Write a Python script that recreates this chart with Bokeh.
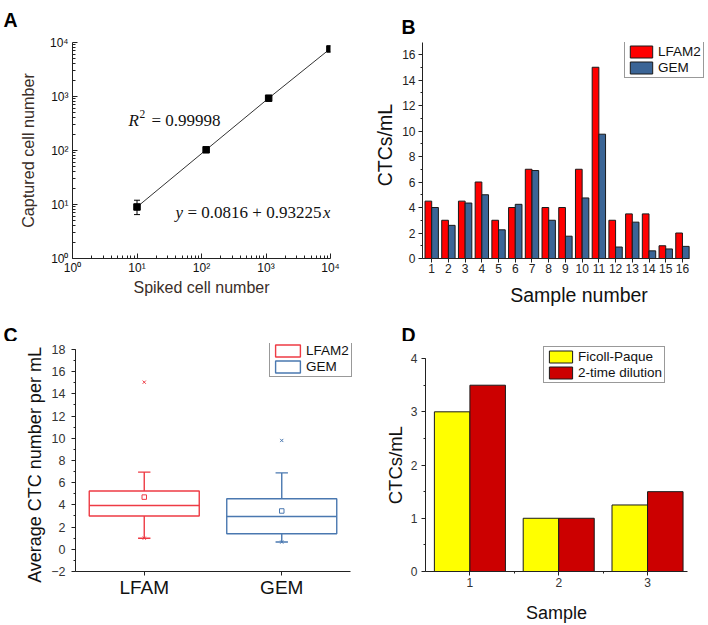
import math
from bokeh.plotting import figure
from bokeh.layouts import column, row
from bokeh.models import (Range1d, Legend, LegendItem, FixedTicker, Label,
                          SingleIntervalTicker, CustomJSTickFormatter,
                          ColumnDataSource, Whisker, TeeHead)
from bokeh.transform import dodge
from bokeh.embed import file_html
from bokeh.resources import INLINE

# ---------------- data ----------------
# Panel A: capture (log-log)
spiked_cells = [10, 118, 1100, 9800]
captured_cells = [9.0, 103, 930, 7600]
err_spiked = [10]
err_lower = [6.5]
err_upper = [12.0]
r2_value = "= 0.99998"
fit_text = "= 0.0816 + 0.93225"
log_tick_values = [1, 10, 100, 1000, 10000]
log_tick_labels = ["10\u2070", "10\u00b9", "10\u00b2", "10\u00b3", "10\u2074"]

# Panel B: CTCs per sample
sample_numbers = list(range(1, 17))
lfam2_ctc = [4.5, 3, 4.5, 6, 3, 4, 7, 4, 4, 7, 15, 3, 3.5, 3.5, 1, 2]
gem_ctc = [4.0, 2.6, 4.35, 5.0, 2.25, 4.25, 6.9, 3.0, 1.75, 4.75, 9.75, 0.9, 2.85, 0.6, 0.75, 0.95]
series_b = ["LFAM2", "GEM"]

# Panel C: box plot
box_groups = ["LFAM", "GEM"]
box_legend = ["LFAM2", "GEM"]
box_q1 = [3.0, 1.4]
box_median = [3.95, 2.95]
box_q3 = [5.25, 4.55]
box_whisker_low = [1.0, 0.65]
box_whisker_high = [6.95, 6.88]
box_mean = [4.7, 3.45]
box_min = [1.0, 0.65]
box_max = [15.05, 9.8]

# Panel D
samples_d = [1, 2, 3]
ficoll_ctc = [3.0, 1.0, 1.25]
dilution_ctc = [3.5, 1.0, 1.5]
series_d = ["Ficoll-Paque", "2-time dilution"]

panel_letters = ["A", "B", "C", "D"]

# ---------------- layout helpers ----------------
SANS = "Liberation Sans"
SERIF = "Liberation Serif"
NB = "\u00a0"
TOP_STRIP = 34      # page rows 0..34 hold letters A, B
MID_STRIP = 31      # page rows 310..341 hold letters C, D

# frame boxes (page px) -- frames in one row share top/bottom
# calibration: two (pixel, value) pairs per axis
PANELS = {
    "A": dict(ox=0, oy=TOP_STRIP, W=354, H=310 - TOP_STRIP, frame=(72, 42, 330, 258),
              xcal=((72, 1), (330, 1e4)), ycal=((258, 1), (42, 1e4))),
    "B": dict(ox=354, oy=TOP_STRIP, W=354, H=310 - TOP_STRIP, frame=(422.5, 42, 708, 258),
              xcal=((422.5, 0.45), (689.5, 16.45)), ycal=((258, 0), (54, 16))),
    "C": dict(ox=0, oy=310 + MID_STRIP, W=354, H=315 - MID_STRIP, frame=(75, 343, 354, 574),
              xcal=((75, 0.5), (350, 2.5)), ycal=((574, -2), (349, 18))),
    "D": dict(ox=354, oy=310 + MID_STRIP, W=354, H=315 - MID_STRIP, frame=(425, 343, 686.5, 574),
              xcal=((425, 0.5), (686.5, 3.45)), ycal=((574, 0), (358.3, 4))),
}


def calib(cal, log, p_edge):
    (pa, va), (pb, vb) = cal
    fa, fb = (math.log10(va), math.log10(vb)) if log else (va, vb)
    f = fa + (p_edge - pa) * (fb - fa) / (pb - pa)
    return 10 ** f if log else f


def make_fig(name, x_log=False, y_log=False):
    g = PANELS[name]
    w, h = g["W"], g["H"]
    fx0, fy0, fx1, fy1 = g["frame"]
    left = round(fx0 - g["ox"])
    fw = round(fx1 - fx0)
    top = round(fy0 - g["oy"])
    fh = round(fy1 - fy0)
    xr = (calib(g["xcal"], x_log, fx0), calib(g["xcal"], x_log, fx1))
    yr = (calib(g["ycal"], y_log, fy1), calib(g["ycal"], y_log, fy0))
    p = figure(width=w, height=h,
               x_range=Range1d(*xr), y_range=Range1d(*yr),
               x_axis_type="log" if x_log else "linear",
               y_axis_type="log" if y_log else "linear",
               output_backend="svg", toolbar_location=None,
               min_border_left=left, min_border_right=w - left - fw,
               min_border_top=top, min_border_bottom=h - top - fh)
    p.outline_line_color = None
    p.xgrid.visible = False
    p.ygrid.visible = False
    p.background_fill_color = "white"
    p.border_fill_color = "white"

    def to_data(px, py):
        return calib(g["xcal"], x_log, px), calib(g["ycal"], y_log, py)

    def to_legend(px_left, py_bottom):
        return (round(px_left - fx0), round(fy1 - py_bottom))

    return p, to_data, to_legend


def make_strip(height, y0, letters):
    s = figure(width=708, height=height, x_range=Range1d(0, 708),
               y_range=Range1d(y0 + height, y0), title=None,
               x_axis_location=None, y_axis_location=None,
               output_backend="svg", toolbar_location=None, min_border=0,
               min_border_left=0, min_border_right=0,
               min_border_top=0, min_border_bottom=0)
    s.outline_line_color = None
    s.xgrid.visible = False
    s.ygrid.visible = False
    s.background_fill_color = "white"
    s.border_fill_color = "white"
    for text, px, py in letters:
        # py is the baseline of the bold letter
        s.add_layout(Label(x=px, y=py, text=text, text_align="left", text_baseline="alphabetic",
                           text_font=SANS, text_font_size="19.5px",
                           text_font_style="bold", text_color="black"))
    return s


def style_axes(p, tick_size, tick_color="#222", tin=0, tout=4, mtin=0, mtout=2):
    for ax in (p.xaxis[0], p.yaxis[0]):
        ax.axis_line_color = "#222"
        ax.axis_line_width = 1
        ax.major_tick_line_color = "#222"
        ax.minor_tick_line_color = "#222"
        ax.major_tick_in = tin
        ax.major_tick_out = tout
        ax.minor_tick_in = mtin
        ax.minor_tick_out = mtout
        ax.major_label_text_font = SANS
        ax.major_label_text_font_size = f"{tick_size}px"
        ax.major_label_text_color = tick_color
        ax.axis_label_text_font = SANS
        ax.axis_label_text_font_style = "normal"


def set_axis_label(ax, text, size, standoff, color="#111"):
    ax.axis_label = text
    ax.axis_label_text_font_size = f"{size}px"
    ax.axis_label_standoff = standoff
    ax.axis_label_text_color = color


def add_label(p, to_data, px, py, text, size, align="left", baseline="alphabetic",
              font=SERIF, style="normal", color="#111"):
    x, y = to_data(px, py)
    p.add_layout(Label(x=x, y=y, text=text, text_align=align,
                       text_baseline=baseline, text_font=font,
                       text_font_size=f"{size}px", text_font_style=style,
                       text_color=color))


def make_legend(items, loc, glyph_w, size=13.5):
    return Legend(items=items, location=loc, orientation="vertical",
                  glyph_width=glyph_w, glyph_height=15, label_height=15,
                  label_standoff=3, padding=2, spacing=1, margin=0,
                  border_line_color="#333", border_line_width=1.5,
                  label_text_font=SANS, label_text_font_size=f"{size}px",
                  label_text_color="#111", background_fill_color="white",
                  background_fill_alpha=1)


# ---------------- Panel A ----------------
pA, dA, _ = make_fig("A", x_log=True, y_log=True)
style_axes(pA, 12, "#111", tin=5, tout=0, mtin=3, mtout=0)
minor_log = [d * k for d in log_tick_values[:-1] for k in range(2, 10)]
fmt_log = CustomJSTickFormatter(args=dict(labels=log_tick_labels),
                                code="const e = Math.round(Math.log10(tick)); return labels[e] ?? '';")
for ax in (pA.xaxis[0], pA.yaxis[0]):
    ax.ticker = FixedTicker(ticks=log_tick_values, minor_ticks=minor_log)
    ax.formatter = fmt_log
pA.yaxis[0].major_label_standoff = 4
pA.xaxis[0].major_label_standoff = 2
set_axis_label(pA.yaxis[0], "Captured cell number", 16.2, 10, "#3a2e28")
set_axis_label(pA.xaxis[0], "Spiked cell number", 16, 1, "#3a2e28")

err_src = ColumnDataSource(dict(x=err_spiked, lo=err_lower, hi=err_upper))
pA.add_layout(Whisker(source=err_src, base="x", lower="lo", upper="hi",
                      dimension="height", line_color="black", line_width=1,
                      upper_head=TeeHead(size=6, line_color="black", line_width=1),
                      lower_head=TeeHead(size=6, line_color="black", line_width=1)))
pA.line(spiked_cells, captured_cells, line_color="#333", line_width=1)
pA.scatter(spiked_cells, captured_cells, marker="square", size=6.5, color="black")

add_label(pA, dA, 128, 119.5, "R", 17, style="italic")
add_label(pA, dA, 139, 113.5, "2", 11.5)
add_label(pA, dA, 151, 119.5, r2_value, 17)
add_label(pA, dA, 175, 212, "y", 17, style="italic")
add_label(pA, dA, 187, 212, fit_text, 17)
add_label(pA, dA, 322.5, 212, "x", 17, style="italic")

# ---------------- Panel B ----------------
pB, dB, lB = make_fig("B")
style_axes(pB, 12, "#222", tin=0, tout=4, mtin=0, mtout=2)
pB.xaxis[0].ticker = FixedTicker(ticks=sample_numbers, minor_ticks=[])
pB.xaxis[0].bounds = (PANELS["B"]["xcal"][0][1], PANELS["B"]["xcal"][1][1])
pB.yaxis[0].ticker = SingleIntervalTicker(interval=2, num_minor_ticks=2)
pB.xaxis[0].major_label_standoff = 1
pB.yaxis[0].major_label_standoff = 3
set_axis_label(pB.yaxis[0], NB * 2 + "CTCs/mL", 19.5, 3)
set_axis_label(pB.xaxis[0], NB * 5 + "Sample number", 19.5, 8)

srcB = ColumnDataSource(dict(s=sample_numbers, a=lfam2_ctc, b=gem_ctc))
rB1 = pB.vbar(x=dodge("s", -0.2, range=pB.x_range), width=0.4, top="a", source=srcB,
              fill_color="#ff0000", line_color="#1a1a1a", line_width=1)
rB2 = pB.vbar(x=dodge("s", 0.2, range=pB.x_range), width=0.4, top="b", source=srcB,
              fill_color="#3b6596", line_color="#1a1a1a", line_width=1)
pB.add_layout(make_legend([LegendItem(label=series_b[0], renderers=[rB1]),
                           LegendItem(label=series_b[1], renderers=[rB2])],
                          lB(625, 78), 28))

# ---------------- Panel C ----------------
pC, dC, lC = make_fig("C")
style_axes(pC, 12.5, "#333", tin=0, tout=4, mtin=0, mtout=2)
box_pos = [i + 1 for i in range(len(box_groups))]
pC.xaxis[0].ticker = FixedTicker(ticks=box_pos, minor_ticks=[])
pC.xaxis[0].bounds = (PANELS["C"]["xcal"][0][1], PANELS["C"]["xcal"][1][1])
pC.xaxis[0].formatter = CustomJSTickFormatter(args=dict(names=box_groups),
                                              code="return names[Math.round(tick) - 1] ?? '';")
pC.xaxis[0].major_label_text_font_size = "19px"
pC.xaxis[0].major_label_text_color = "#111"
pC.xaxis[0].major_label_standoff = 1
pC.yaxis[0].ticker = SingleIntervalTicker(interval=2, num_minor_ticks=2)
pC.yaxis[0].bounds = (PANELS["C"]["ycal"][0][1], PANELS["C"]["ycal"][1][1])
pC.yaxis[0].major_label_standoff = 6
set_axis_label(pC.yaxis[0], "Average CTC number per mL" + NB * 3, 18, 3)

box_colors = ["#ee3b44", "#4a78b0"]
srcC = ColumnDataSource(dict(pos=box_pos, q1=box_q1, med=box_median, q3=box_q3,
                             lo=box_whisker_low, hi=box_whisker_high, mean=box_mean,
                             mn=box_min, mx=box_max, color=box_colors))
lw = 1.4
rbox = pC.vbar(x="pos", bottom="q1", top="q3", width=0.8, source=srcC,
               fill_color=None, line_color="color", line_width=lw)
pC.segment(x0=dodge("pos", -0.4), x1=dodge("pos", 0.4), y0="med", y1="med",
           source=srcC, line_color="color", line_width=lw)
pC.segment(x0="pos", x1="pos", y0="q3", y1="hi", source=srcC, line_color="color", line_width=lw)
pC.segment(x0="pos", x1="pos", y0="q1", y1="lo", source=srcC, line_color="color", line_width=lw)
pC.segment(x0=dodge("pos", -0.045), x1=dodge("pos", 0.045), y0="hi", y1="hi",
           source=srcC, line_color="color", line_width=lw)
pC.segment(x0=dodge("pos", -0.045), x1=dodge("pos", 0.045), y0="lo", y1="lo",
           source=srcC, line_color="color", line_width=lw)
pC.scatter(x="pos", y="mean", source=srcC, marker="square", size=4.5,
           fill_color=None, line_color="color", line_width=1)
pC.scatter(x="pos", y="mx", source=srcC, marker="x", size=4.5, line_color="color", line_width=1)
pC.scatter(x="pos", y="mn", source=srcC, marker="x", size=4.5, line_color="color", line_width=1)
pC.add_layout(make_legend([LegendItem(label=box_legend[0], renderers=[rbox], index=0),
                           LegendItem(label=box_legend[1], renderers=[rbox], index=1)],
                          lC(269, 380), 31))

# ---------------- Panel D ----------------
pD, dD, lD = make_fig("D")
style_axes(pD, 12, "#333", tin=0, tout=4, mtin=0, mtout=2)
pD.xaxis[0].ticker = FixedTicker(ticks=samples_d, minor_ticks=[s + 0.5 for s in samples_d[:-1]])
pD.yaxis[0].ticker = SingleIntervalTicker(interval=1, num_minor_ticks=2)
pD.yaxis[0].bounds = (PANELS["D"]["ycal"][0][1], PANELS["D"]["ycal"][1][1])
pD.xaxis[0].major_label_standoff = 2
pD.yaxis[0].major_label_standoff = 4
set_axis_label(pD.yaxis[0], "CTCs/mL" + NB * 3, 18.5, 2)
set_axis_label(pD.xaxis[0], "Sample", 18, 13)

srcD = ColumnDataSource(dict(s=samples_d, f=ficoll_ctc, d=dilution_ctc))
rD1 = pD.vbar(x=dodge("s", -0.2, range=pD.x_range), width=0.4, top="f", source=srcD,
              fill_color="#ffff00", line_color="#1a1a1a", line_width=1)
rD2 = pD.vbar(x=dodge("s", 0.2, range=pD.x_range), width=0.4, top="d", source=srcD,
              fill_color="#cc0000", line_color="#1a1a1a", line_width=1)
pD.add_layout(make_legend([LegendItem(label=series_d[0], renderers=[rD1]),
                           LegendItem(label=series_d[1], renderers=[rD2])],
                          lD(543, 386), 29))

# ---------------- letter strips ----------------
strip_top = make_strip(TOP_STRIP, 0, [(panel_letters[0], 3, 19), (panel_letters[1], 401, 26.5)])
strip_mid = make_strip(MID_STRIP, 310, [(panel_letters[2], 3, 334), (panel_letters[3], 401, 334)])

layout = column(strip_top, row(pA, pB, spacing=0), strip_mid, row(pC, pD, spacing=0), spacing=0)
open("out.html", "w").write(file_html(layout, INLINE))
